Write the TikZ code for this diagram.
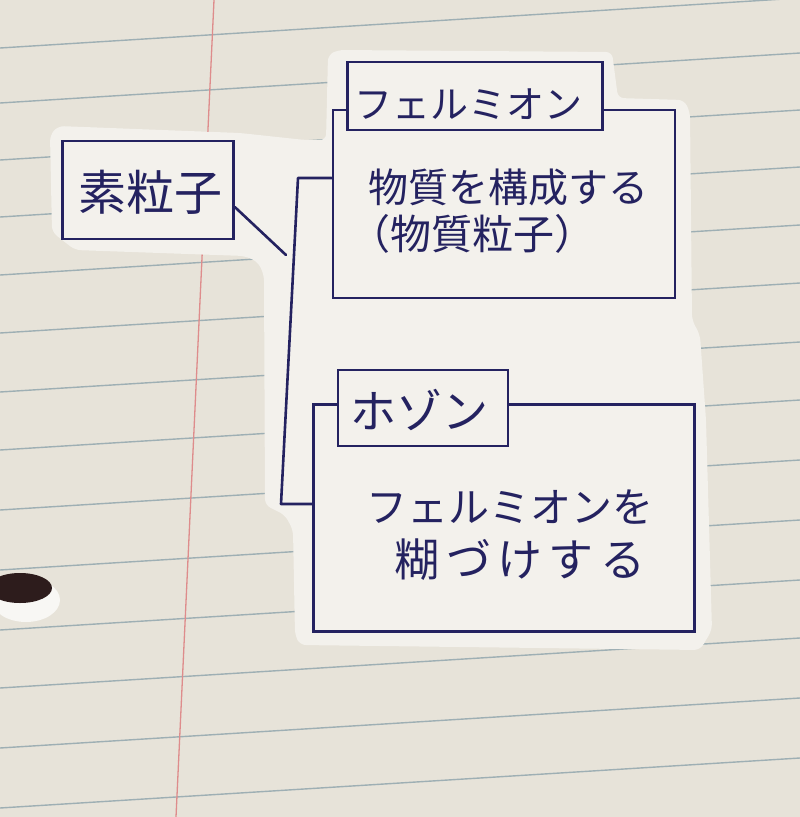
\documentclass[tikz,border=0pt]{standalone}
\usepackage{fontspec}
\newfontfamily\jp{Noto Sans CJK JP}
\definecolor{paperbg}{RGB}{231,227,217}
\definecolor{cutcol}{RGB}{243,241,236}
\definecolor{rulecol}{RGB}{158,175,180}
\definecolor{margincol}{RGB}{222,140,140}
\definecolor{inkcol}{RGB}{36,34,96}
\definecolor{holecol}{RGB}{45,28,28}
\tikzset{
  inkbox/.style={draw=inkcol, line width=2.6pt, rectangle, inner sep=0pt},
  titlebox/.style={inkbox, fill=cutcol},
  inkline/.style={draw=inkcol, line width=2.6pt, line join=round, line cap=round},
  handtext/.style={text=inkcol, font=\jp, inner sep=0pt},
  ruled/.style={draw=rulecol, line width=1.4pt}
}
\begin{document}
\begin{tikzpicture}[x=1pt,y=-1pt]
% paper
\fill[paperbg] (0,0) rectangle (800,817);
\useasboundingbox (0,0) rectangle (800,817);
\foreach \yy in {-10,48,103,160,217,275,333,392,450,510,570,630,688,748,808}
  \draw[ruled] (0,\yy) -- (800,\yy-50);
\draw[margincol, line width=1.3pt] (214,0) -- (176,817);
% punched hole
\fill[white!70!paperbg] (26,600) ellipse [x radius=34, y radius=22];
\fill[holecol] (20,588) ellipse [x radius=32, y radius=15];
% cut-out white paper
\fill[cutcol, rounded corners=6pt]
  (58,126) -- (240,133) -- (305,140) -- (326,140) -- (328,55) -- (338,50)
  -- (612,52) -- (618,98) -- (684,100) -- (690,112) -- (692,320) -- (700,335)
  -- (706,420) -- (712,630) -- (700,650) -- (300,645) -- (295,635) -- (293,530)
  -- (285,515) -- (265,505) -- (264,275) -- (258,262) -- (245,256) -- (75,250)
  -- (52,232) -- (50,135) -- cycle;
% root node
\node[inkbox, minimum width=171pt, minimum height=98pt] (soshi) at (148,190) {};
\node[handtext, font=\jp\fontsize{48pt}{54pt}\selectfont] (soshiT) at (150,192) {素粒子};
% fermion
\node[inkbox, minimum width=342pt, minimum height=188pt] (ferbody) at (504,204) {};
\node[titlebox, minimum width=255pt, minimum height=68pt] (fertitle) at (475,96) {};
\node[handtext, font=\jp\fontsize{38pt}{42pt}\selectfont] (fertitleT) at (468,104) {フェルミオン};
\node[handtext, font=\jp\fontsize{40pt}{44pt}\selectfont] (ferT1) at (508,187) {物質を構成する};
\node[handtext, font=\jp\fontsize{41pt}{44pt}\selectfont] (ferT2) at (472,234) {（物質粒子）};
% boson
\node[inkbox, minimum width=381pt, minimum height=227pt] (bosbody) at (504,518) {};
\node[titlebox, minimum width=170pt, minimum height=76pt] (bostitle) at (423,408) {};
\node[handtext, font=\jp\fontsize{46pt}{50pt}\selectfont] (bostitleT) at (419,410) {ホゾン};
\node[handtext, font=\jp\fontsize{41pt}{46pt}\selectfont] (bosT1) at (510,507) {フェルミオンを};
\node[handtext, font=\jp\fontsize{45pt}{50pt}\addfontfeature{LetterSpace=14}\selectfont] (bosT2) at (520,560) {糊づけする};
% connectors
\coordinate (jt) at (298,178);
\coordinate (jd) at (286,255);
\coordinate (jb) at (281,504);
\draw[inkline] ([yshift=-17pt]soshi.east) -- (jd);
\draw[inkline] (ferbody.west |- jt) -- (jt) -- (jb) -- (bosbody.west |- jb);
\end{tikzpicture}
\end{document}
